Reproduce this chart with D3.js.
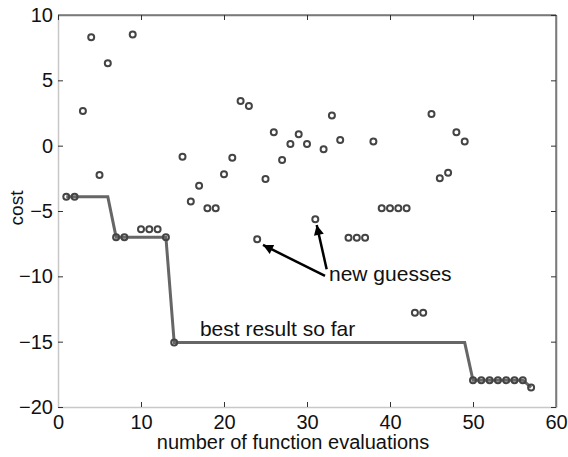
<!DOCTYPE html>
<html>
<head>
<meta charset="utf-8">
<script src="https://cdn.jsdelivr.net/npm/d3@7"></script>
<style>
  body { margin: 0; background: #fff; }
  svg { display: block; font-family: "Liberation Sans", Arial, sans-serif; }
</style>
</head>
<body>
<svg id="chart" width="568" height="457"></svg>
<script>
// evaluation number of each guess
const evals = [1,2,3,4,5,6,7,8,9,10,11,12,13,14,15,16,17,18,19,20,
  21,22,23,24,25,26,27,28,29,30,31,32,33,34,35,36,37,38,39,40,
  41,42,43,44,45,46,47,48,49,50,51,52,53,54,55,56,57];

// cost of each new guess
const guesses = [-3.9,-3.9,2.65,8.3,-2.24,6.3,-7.0,-7.0,8.5,-6.4,
  -6.4,-6.4,-7.0,-15.07,-0.84,-4.28,-3.07,-4.79,-4.79,-2.19,
  -0.92,3.42,3.04,-7.16,-2.55,1.02,-1.09,0.13,0.87,0.13,
  -5.63,-0.28,2.3,0.44,-7.04,-7.04,-7.04,0.31,-4.79,-4.79,
  -4.79,-4.79,-12.78,-12.78,2.43,-2.49,-2.07,1.02,0.31,
  -17.95,-17.95,-17.95,-17.95,-17.95,-17.95,-17.95,-18.5];

// best result so far
const best = [-3.9,-3.9,-3.9,-3.9,-3.9,-3.9,
  -7.0,-7.0,-7.0,-7.0,-7.0,-7.0,-7.0,
  -15.07,-15.07,-15.07,-15.07,-15.07,-15.07,-15.07,-15.07,-15.07,-15.07,
  -15.07,-15.07,-15.07,-15.07,-15.07,-15.07,-15.07,-15.07,-15.07,-15.07,
  -15.07,-15.07,-15.07,-15.07,-15.07,-15.07,-15.07,-15.07,-15.07,-15.07,
  -15.07,-15.07,-15.07,-15.07,-15.07,-15.07,
  -17.95,-17.95,-17.95,-17.95,-17.95,-17.95,-17.95,-18.5];

const xTicks = [0,10,20,30,40,50,60];
const yTicks = [-20,-15,-10,-5,0,5,10];

const svg = d3.select("#chart");
const plotL = 58, plotR = 556, plotT = 15, plotB = 407;

const x = d3.scaleLinear().domain([0, 60]).range([plotL, plotR]);
const y = d3.scaleLinear().domain([-20, 10]).range([plotB, plotT]);

// frame: top and right darker, left and bottom light
svg.append("line").attr("x1", plotL).attr("x2", plotR).attr("y1", plotT).attr("y2", plotT)
  .attr("stroke", "#7a7a7a").attr("stroke-width", 1.5);
svg.append("line").attr("x1", plotR).attr("x2", plotR).attr("y1", plotT).attr("y2", plotB)
  .attr("stroke", "#7a7a7a").attr("stroke-width", 1.5);

svg.append("g")
  .attr("transform", `translate(0,${plotB})`)
  .call(d3.axisBottom(x).tickValues(xTicks).tickSizeInner(-5).tickSizeOuter(0).tickPadding(8));
svg.append("g")
  .attr("transform", `translate(${plotL},0)`)
  .call(d3.axisLeft(y).tickValues(yTicks).tickSizeInner(-5).tickSizeOuter(0).tickPadding(5));
svg.append("g")
  .attr("class", "frame")
  .attr("transform", `translate(0,${plotT})`)
  .call(d3.axisTop(x).tickValues(xTicks).tickSizeInner(-5).tickSizeOuter(0).tickFormat(""));
svg.append("g")
  .attr("class", "frame")
  .attr("transform", `translate(${plotR},0)`)
  .call(d3.axisRight(y).tickValues(yTicks).tickSizeInner(-5).tickSizeOuter(0).tickFormat(""));

svg.selectAll(".domain").attr("stroke", "#c8c8c8").attr("stroke-width", 1.5);
svg.selectAll(".frame .domain").attr("stroke", "#7a7a7a");
svg.selectAll(".tick line").attr("stroke", "#333");
svg.selectAll(".tick text").attr("font-size", 20).attr("fill", "#111")
  .style("font-family", "'Liberation Sans', Arial, sans-serif");

// axis titles
svg.append("text")
  .attr("x", (plotL + plotR) / 2 - 14)
  .attr("y", 449)
  .attr("text-anchor", "middle")
  .attr("font-size", 20)
  .attr("fill", "#111")
  .text("number of function evaluations");

svg.append("text")
  .attr("transform", "translate(23,208) rotate(-90)")
  .attr("text-anchor", "middle")
  .attr("font-size", 19)
  .attr("fill", "#111")
  .text("cost");

// best-so-far line
const line = d3.line().x((d, i) => x(evals[i])).y(d => y(d));
svg.append("path")
  .datum(best)
  .attr("d", line)
  .attr("fill", "none")
  .attr("stroke", "#666")
  .attr("stroke-width", 3);

// guesses
svg.selectAll("circle.guess")
  .data(guesses)
  .join("circle")
  .attr("class", "guess")
  .attr("cx", (d, i) => x(evals[i]))
  .attr("cy", d => y(d))
  .attr("r", 3)
  .attr("fill", "none")
  .attr("stroke", "#444")
  .attr("stroke-width", 2);

// annotations
svg.append("defs").append("marker")
  .attr("id", "arrow")
  .attr("viewBox", "0 0 10 10")
  .attr("refX", 10).attr("refY", 5)
  .attr("markerWidth", 5).attr("markerHeight", 4)
  .attr("markerUnits", "strokeWidth")
  .attr("orient", "auto")
  .append("path")
  .attr("d", "M0,0 L10,5 L0,10 Z")
  .attr("fill", "#000");

const arrows = [
  {from: [32.17, -9.97], to: [24.7, -7.6]},
  {from: [32.37, -9.46], to: [31.17, -6.07]}
];
svg.selectAll("line.arrow")
  .data(arrows)
  .join("line")
  .attr("class", "arrow")
  .attr("x1", d => x(d.from[0])).attr("y1", d => y(d.from[1]))
  .attr("x2", d => x(d.to[0])).attr("y2", d => y(d.to[1]))
  .attr("stroke", "#000")
  .attr("stroke-width", 2.5)
  .attr("marker-end", "url(#arrow)");

svg.append("text")
  .attr("x", x(32.65)).attr("y", y(-10.35))
  .attr("font-size", 21)
  .attr("fill", "#111")
  .text("new guesses");

svg.append("text")
  .attr("x", x(17.1)).attr("y", y(-14.6))
  .attr("font-size", 21)
  .attr("fill", "#111")
  .text("best result so far");
</script>
</body>
</html>
